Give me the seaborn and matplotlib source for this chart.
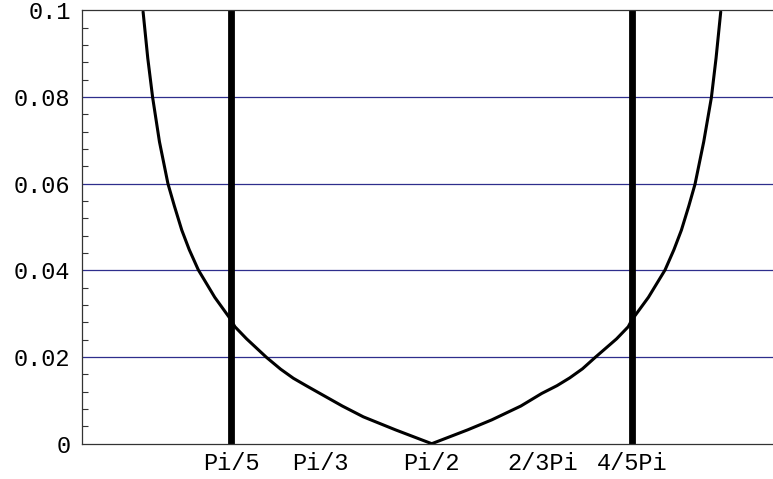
import numpy as np
import pandas as pd
import matplotlib
matplotlib.use("Agg")
import matplotlib.pyplot as plt
from matplotlib.ticker import MultipleLocator
import seaborn as sns

# Curve samples (x in radians, y value)
curve_x = [0.213, 0.235, 0.258, 0.290, 0.330, 0.360, 0.395, 0.430, 0.473, 0.550,
           0.622, 0.645, 0.700, 0.794, 0.860, 0.920, 0.980, 1.045, 1.150, 1.249,
           1.400, 1.5708,
           1.740, 1.853, 1.990, 2.088, 2.160, 2.220, 2.280, 2.339, 2.440, 2.495,
           2.511, 2.590, 2.668, 2.710, 2.745, 2.780, 2.809, 2.850, 2.886, 2.908,
           2.930]
curve_y = [0.0997, 0.0890, 0.0799, 0.0697, 0.0600, 0.0549, 0.0493, 0.0448, 0.0401, 0.0338,
           0.0289, 0.0270, 0.0242, 0.0199, 0.0172, 0.0151, 0.0134, 0.0116, 0.0087, 0.0062,
           0.0032, 0.0,
           0.0032, 0.0055, 0.0087, 0.0116, 0.0134, 0.0152, 0.0173, 0.0199, 0.0242, 0.0270,
           0.0285, 0.0338, 0.0401, 0.0448, 0.0493, 0.0549, 0.0599, 0.0697, 0.0799, 0.0890,
           0.0997]

# Thick vertical markers
marker_x = [np.pi / 5, 4 * np.pi / 5]

# Ticks
x_ticks = [np.pi / 5, np.pi / 3, np.pi / 2, 2 * np.pi / 3, 4 * np.pi / 5]
x_labels = ["Pi/5", "Pi/3", "Pi/2", "2/3Pi", "4/5Pi"]
y_ticks = [0, 0.02, 0.04, 0.06, 0.08, 0.1]
y_labels = ["0", "0.02", "0.04", "0.06", "0.08", "0.1"]
grid_levels = [0.02, 0.04, 0.06, 0.08]

sns.set_style("white")
plt.rcParams["font.family"] = ["Liberation Mono", "DejaVu Sans Mono"]

fig = plt.figure(figsize=(7.73, 4.79), dpi=100)
ax = fig.add_axes([0.1057, 0.0737, 0.9057, 0.9044])

for g in grid_levels:
    ax.axhline(g, color="#2e2e8c", lw=0.9, zorder=1)

df = pd.DataFrame({"x": curve_x, "y": curve_y})
sns.lineplot(data=df, x="x", y="y", sort=False, color="black", lw=2.2,
             ax=ax, zorder=3)

for mx in marker_x:
    ax.axvline(mx, color="black", lw=4.9, zorder=4)

ax.set_xlim(-0.0757, np.pi + 0.0757)
ax.set_ylim(0, 0.1)
ax.set_xlabel("")
ax.set_ylabel("")

ax.set_xticks(x_ticks)
ax.set_xticklabels(x_labels)
ax.set_yticks(y_ticks)
ax.set_yticklabels(y_labels)
ax.yaxis.set_minor_locator(MultipleLocator(0.004))

ax.tick_params(axis="both", which="major", direction="in", length=5, width=0.8,
               color="#333333", labelsize=17, labelcolor="black")
ax.tick_params(axis="y", which="minor", direction="in", length=4, width=0.8,
               color="#333333", left=True)
ax.tick_params(axis="x", which="major", pad=6)
ax.tick_params(axis="y", which="major", pad=8)

for side in ["left", "bottom", "top"]:
    ax.spines[side].set_visible(True)
    ax.spines[side].set_color("#333333")
    ax.spines[side].set_linewidth(0.9)
    ax.spines[side].set_zorder(5)
ax.spines["right"].set_visible(False)

fig.savefig("out.png", dpi=100)
